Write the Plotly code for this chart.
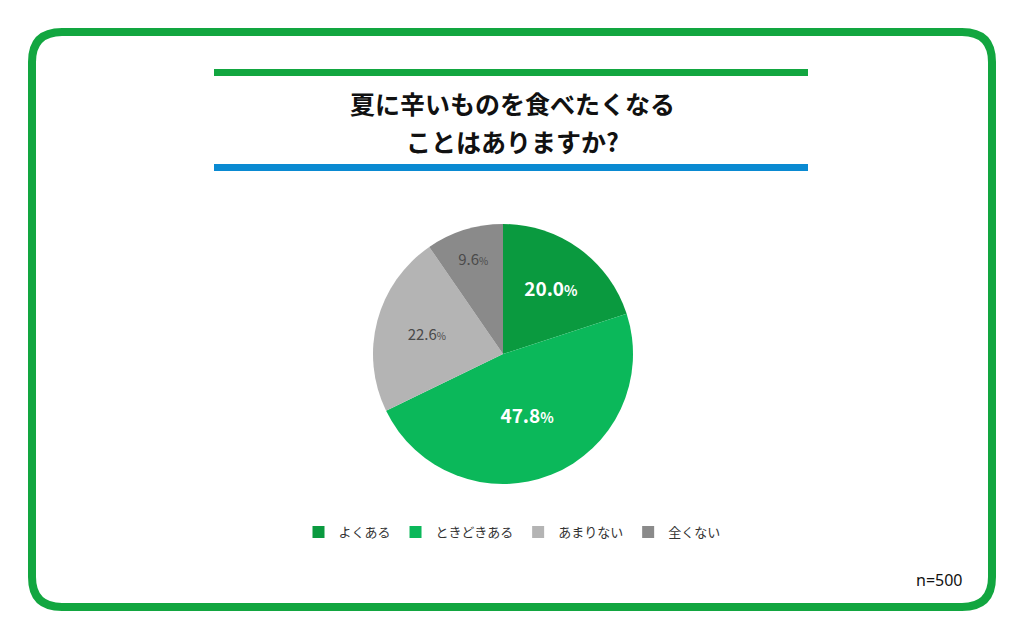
import plotly.graph_objects as go

# 夏に辛いものを食べたくなることはありますか? (n=500)
labels = ["よくある", "ときどきある", "あまりない", "全くない"]
values = [20.0, 47.8, 22.6, 9.6]
colors = ["#0a9a3f", "#0bb85a", "#b4b4b4", "#8a8a8a"]
label_colors = ["white", "white", "#4a4a4a", "#4a4a4a"]
label_weights = ["bold", "bold", "normal", "normal"]
label_sizes = [19, 19, 15, 15]

title_lines = ["夏に辛いものを食べたくなる", "ことはありますか?"]
sample_note = "n=500"

W, H = 1024, 643
JP = "Noto Sans CJK JP"

texts = []
for v, w, s in zip(values, label_weights, label_sizes):
    t = f"{v:.1f}<span style='font-size:{s - 5}px'>%</span>"
    if w == "bold":
        t = f"<b>{t}</b>"
    texts.append(t)

fig = go.Figure()

fig.add_trace(go.Pie(
    labels=labels,
    values=values,
    text=texts,
    textinfo="text",
    textposition="inside",
    insidetextorientation="horizontal",
    sort=False,
    direction="clockwise",
    rotation=0,
    marker=dict(colors=colors, line=dict(width=0)),
    insidetextfont=dict(color=label_colors, size=label_sizes, family=JP),
    hoverinfo="label+percent",
    domain=dict(x=[373 / W, 633 / W], y=[1 - 484 / H, 1 - 224 / H]),
))

# frame and title bars
r = 30
x0, y0, x1, y1 = 32, 32, 992, 607
frame = (f"M{x0 + r},{y0} L{x1 - r},{y0} Q{x1},{y0} {x1},{y0 + r} "
         f"L{x1},{y1 - r} Q{x1},{y1} {x1 - r},{y1} "
         f"L{x0 + r},{y1} Q{x0},{y1} {x0},{y1 - r} "
         f"L{x0},{y0 + r} Q{x0},{y0} {x0 + r},{y0} Z")
shapes = [
    dict(type="path", path=frame, xref="x", yref="y",
         line=dict(color="#12a640", width=8)),
    dict(type="rect", x0=214, x1=808, y0=69, y1=76, xref="x", yref="y",
         fillcolor="#12a640", line=dict(width=0)),
    dict(type="rect", x0=214, x1=808, y0=164, y1=171, xref="x", yref="y",
         fillcolor="#0a8ad2", line=dict(width=0)),
]

annotations = [
    dict(text=f"<b>{title_lines[0]}</b>", x=W / 2, y=103, xref="x", yref="y",
         showarrow=False, font=dict(family=JP, size=25, color="#111111")),
    dict(text=f"<b>{title_lines[1]}</b>", x=W / 2, y=141, xref="x", yref="y",
         showarrow=False, font=dict(family=JP, size=25, color="#111111")),
    dict(text=sample_note, x=965, y=580, xref="x", yref="y", xanchor="right",
         showarrow=False, font=dict(family="Noto Sans", size=16, color="#111111")),
]

fig.update_layout(
    width=W, height=H,
    margin=dict(l=0, r=0, t=0, b=0),
    paper_bgcolor="white",
    plot_bgcolor="white",
    xaxis=dict(range=[0, W], visible=False, domain=[0, 1], fixedrange=True),
    yaxis=dict(range=[H, 0], visible=False, domain=[0, 1], fixedrange=True),
    shapes=shapes,
    annotations=annotations,
    showlegend=True,
    legend=dict(orientation="h", x=0.5, xanchor="center", y=1 - 532 / H, yanchor="middle",
                font=dict(family=JP, size=13, color="#333333"),
                itemsizing="constant", traceorder="normal", itemwidth=30),
)

fig.write_html("out.html", config={"displayModeBar": False},
               post_script="document.body.style.margin='0';")
